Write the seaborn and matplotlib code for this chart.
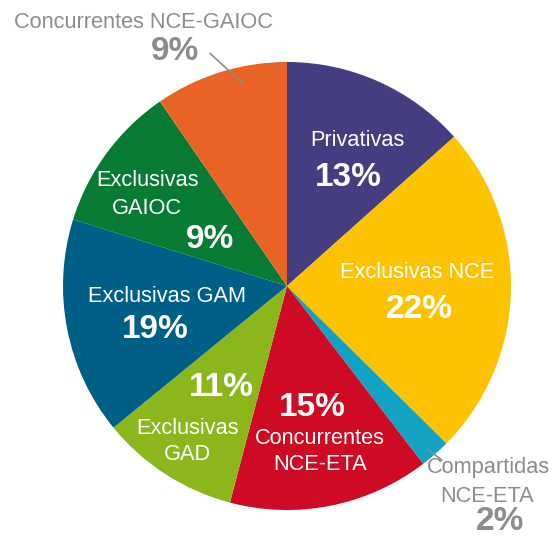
import matplotlib
matplotlib.use("Agg")
import matplotlib.pyplot as plt
import seaborn as sns

# ---- data ----
categories = ["Privativas", "Exclusivas NCE", "Compartidas NCE-ETA",
              "Concurrentes NCE-ETA", "Exclusivas GAD", "Exclusivas GAM",
              "Exclusivas GAIOC", "Concurrentes NCE-GAIOC"]
shares = [13.4, 24.0, 2.2, 14.5, 10.0, 15.7, 10.6, 9.6]
pct_labels = ["13%", "22%", "2%", "15%", "11%", "19%", "9%", "9%"]
colors = ["#443D80", "#FDC300", "#11A2C4", "#CE0A24",
          "#8BB71C", "#005F87", "#077A34", "#E96424"]

sns.set_theme(style="white")
plt.rcParams['font.family'] = ['Liberation Sans', 'DejaVu Sans']

W, H = 559, 536
fig = plt.figure(figsize=(W / 100, H / 100), dpi=100)
ax = fig.add_axes([0, 0, 1, 1])

cx, cy, r = 287, H - 286, 224
ax.pie(shares, colors=colors, startangle=90, counterclock=False,
       center=(cx, cy), radius=r,
       wedgeprops=dict(linewidth=0, antialiased=True))
ax.set_xlim(0, W)
ax.set_ylim(0, H)
ax.set_aspect('equal')
ax.axis('off')

GRAY = "#8C8C8C"
FS = 15.7
FB = 24

def t(x, y, s, bold=False, color="white"):
    ax.text(x, H - y, s, ha="center", va="center",
            fontsize=FB if bold else FS,
            fontweight="bold" if bold else "normal", color=color)

# layout (pixel positions of label lines)
t(357, 141, "Privativas")
t(348, 178, pct_labels[0], bold=True)

t(417, 272, "Exclusivas NCE")
t(419, 309, pct_labels[1], bold=True)

t(488, 468, "Compartidas", color=GRAY)
t(487, 496, "NCE-ETA", color=GRAY)
t(500, 522, pct_labels[2], bold=True, color=GRAY)
ax.plot([427.7, 441.7], [H - 449.3, H - 460], color=GRAY, lw=1.2)

t(312, 407, pct_labels[3], bold=True)
t(320, 438, "Concurrentes")
t(320, 465, "NCE-ETA")

t(221, 388, pct_labels[4], bold=True)
t(187, 429, "Exclusivas")
t(187, 455, "GAD")

t(167, 297, "Exclusivas GAM")
t(155, 330, pct_labels[5], bold=True)

t(147, 181, "Exclusivas")
t(147, 208, "GAIOC")
t(210, 240, pct_labels[6], bold=True)

t(143, 22, "Concurrentes NCE-GAIOC", color=GRAY)
t(175, 52, pct_labels[7], bold=True, color=GRAY)
ax.plot([210, 243.3], [H - 53.3, H - 84], color=GRAY, lw=1.2)

fig.savefig("out.png", dpi=100)
